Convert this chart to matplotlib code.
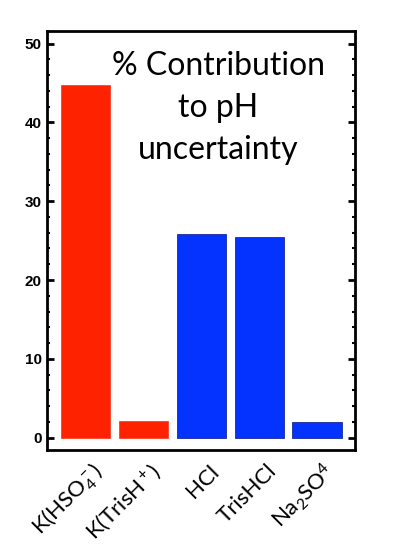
import matplotlib
matplotlib.use("Agg")
import matplotlib.pyplot as plt
from matplotlib.ticker import MultipleLocator
import matplotlib.transforms as mtransforms

plt.rcParams["mathtext.fontset"] = "custom"
plt.rcParams["mathtext.rm"] = "Lato"
plt.rcParams["mathtext.it"] = "Lato:italic"
plt.rcParams["mathtext.bf"] = "Lato:bold"

categories = ["K(HSO$_4^-$)", "K(TrisH$^+$)", "HCl", "TrisHCl", "Na$_2$SO$^4$"]
values = [44.8, 2.1, 25.8, 25.4, 2.0]
colors = ["#FF2200", "#FF2200", "#0433FF", "#0433FF", "#0433FF"]
edges = ["#FF4030", "#FF4030", "#1A2A99", "#1A2A99", "#1A2A99"]
yticks = [0, 10, 20, 30, 40, 50]
title = "% Contribution\nto pH\nuncertainty"

fig = plt.figure(figsize=(3.95, 5.45), dpi=100)
ax = fig.add_axes([0.120, 0.174, 0.779, 0.769])

x = list(range(len(categories)))
ax.bar(x, values, width=0.85, color=colors, edgecolor=edges, linewidth=0.6)

ax.set_xlim(-0.667, 4.66)
ax.set_ylim(-1.6, 51.6)

for s in ax.spines.values():
    s.set_linewidth(2.0)

ax.set_yticks(yticks)
ax.yaxis.set_minor_locator(MultipleLocator(2))
ax.tick_params(axis="y", which="major", direction="in", length=5, width=2,
               left=True, right=True, labelsize=11, pad=4)
ax.tick_params(axis="y", which="minor", direction="in", length=2.5, width=1.5,
               left=True, right=True)
for lab in ax.get_yticklabels():
    lab.set_fontweight("bold")
    lab.set_fontfamily("Liberation Sans")

ax.set_xticks(x)
ax.set_xticklabels(categories, rotation=45, ha="right", va="center",
                   rotation_mode="anchor", fontsize=16, fontfamily="Lato")
ax.tick_params(axis="x", which="both", length=0, pad=13)
offset = mtransforms.ScaledTranslation(14 / 100, 0, fig.dpi_scale_trans)
for lab in ax.get_xticklabels():
    lab.set_transform(lab.get_transform() + offset)

ax.text(0.556, 0.952, title, transform=ax.transAxes, ha="center", va="top",
        fontsize=23, fontfamily="Lato", linespacing=1.5)

fig.savefig("out.png", dpi=100)
